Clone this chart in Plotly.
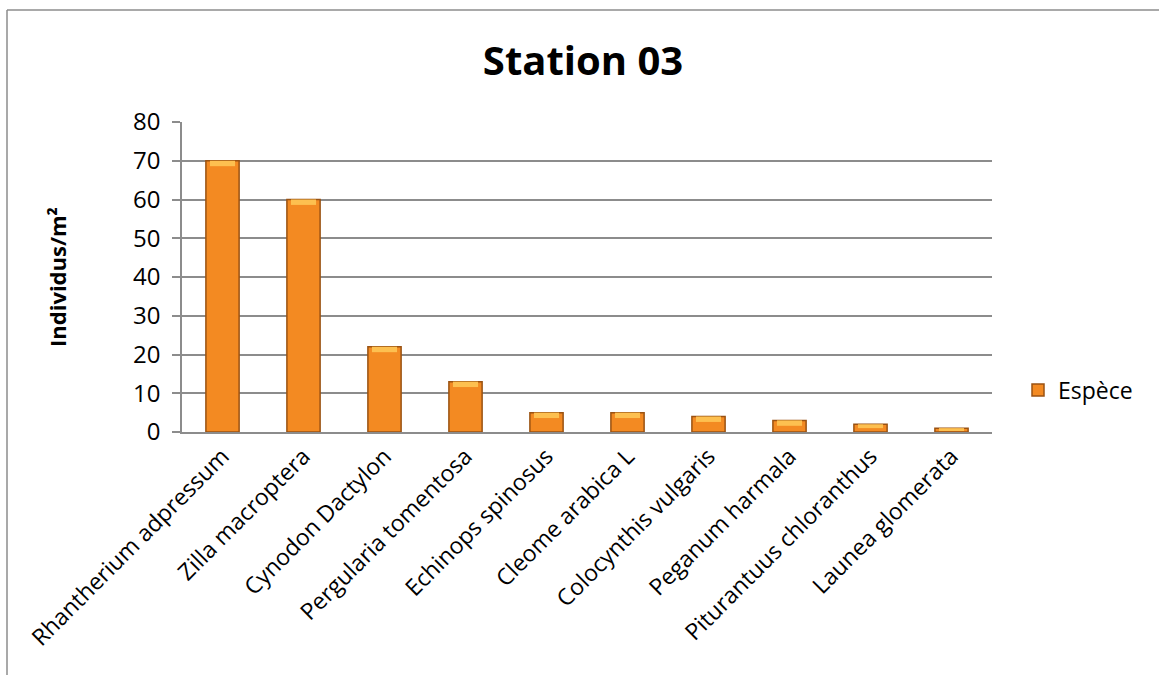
import plotly.graph_objects as go

# Species density at station 03
species = [
    "Rhantherium adpressum", "Zilla macroptera", "Cynodon Dactylon",
    "Pergularia tomentosa", "Echinops spinosus", "Cleome arabica L",
    "Colocynthis vulgaris", "Peganum harmala", "Piturantuus chloranthus",
    "Launea glomerata",
]
density = [70, 60, 22, 13, 5, 5, 4, 3, 2, 1]
y_ticks = [0, 10, 20, 30, 40, 50, 60, 70, 80]

FONT = "Open Sans"
W, H = 1159, 675
L, R, T, B = 182, 167, 122, 243
pw, ph = W - L - R, H - T - B

fig = go.Figure()
fig.add_trace(go.Bar(
    x=species, y=density, name="Espèce",
    marker=dict(color="#F38A22", line=dict(color="#9A5212", width=1.5)),
    width=0.41,
))
# light bevel cap on top of each bar
cap = [min(1.4, v * 0.5) for v in density]
fig.add_trace(go.Bar(
    x=species, y=cap, base=[v - c for v, c in zip(density, cap)],
    marker=dict(color="#FDC050", line=dict(width=0)),
    width=0.31, showlegend=False, hoverinfo="skip",
))

# outer chart frame
fig.add_shape(type="line", xref="paper", yref="paper",
              x0=(7 - L) / pw, x1=(W - L) / pw, y0=(H - B - 10) / ph, y1=(H - B - 10) / ph,
              line=dict(color="#8c8c8c", width=1.5))
fig.add_shape(type="line", xref="paper", yref="paper",
              x0=(7 - L) / pw, x1=(7 - L) / pw, y0=(H - B - 10) / ph, y1=-B / ph,
              line=dict(color="#8c8c8c", width=1.5))

# vertical axis title
fig.add_annotation(
    text="<b>Individus/m²</b>", xref="paper", yref="paper",
    x=(57 - L) / pw, y=0.5, textangle=-90, showarrow=False,
    xanchor="center", yanchor="middle",
    font=dict(family=FONT, size=22, color="black"),
)

fig.update_layout(
    width=W, height=H,
    margin=dict(l=L, r=R, t=T, b=B, autoexpand=False),
    paper_bgcolor="white", plot_bgcolor="white",
    barmode="overlay",
    title=dict(text="<b>Station 03</b>", x=583 / W, xanchor="center",
               y=1 - 61 / H, yanchor="middle",
               font=dict(family=FONT, size=40, color="black")),
    font=dict(family=FONT, color="black"),
    showlegend=True,
    legend=dict(x=(1018 - L) / pw, y=(H - B - 390) / ph, xanchor="left", yanchor="middle",
                font=dict(family=FONT, size=23, color="black"),
                itemwidth=30, bgcolor="rgba(0,0,0,0)"),
    bargap=0.59,
)
fig.update_yaxes(
    range=[0, 80], tickvals=y_ticks, ticktext=[str(t) for t in y_ticks],
    showgrid=True, gridcolor="#8c8c8c", gridwidth=1.5,
    showline=True, linecolor="#8c8c8c", linewidth=1.5,
    ticks="outside", ticklen=8, tickcolor="#8c8c8c", tickwidth=1.5,
    ticklabelstandoff=7,
    tickfont=dict(family=FONT, size=24, color="black"),
    zeroline=False,
)
fig.update_xaxes(
    showline=True, linecolor="#8c8c8c", linewidth=1.5,
    tickangle=-45, tickfont=dict(family=FONT, size=23, color="black"),
    ticks="",
)

fig.write_html("out.html")
